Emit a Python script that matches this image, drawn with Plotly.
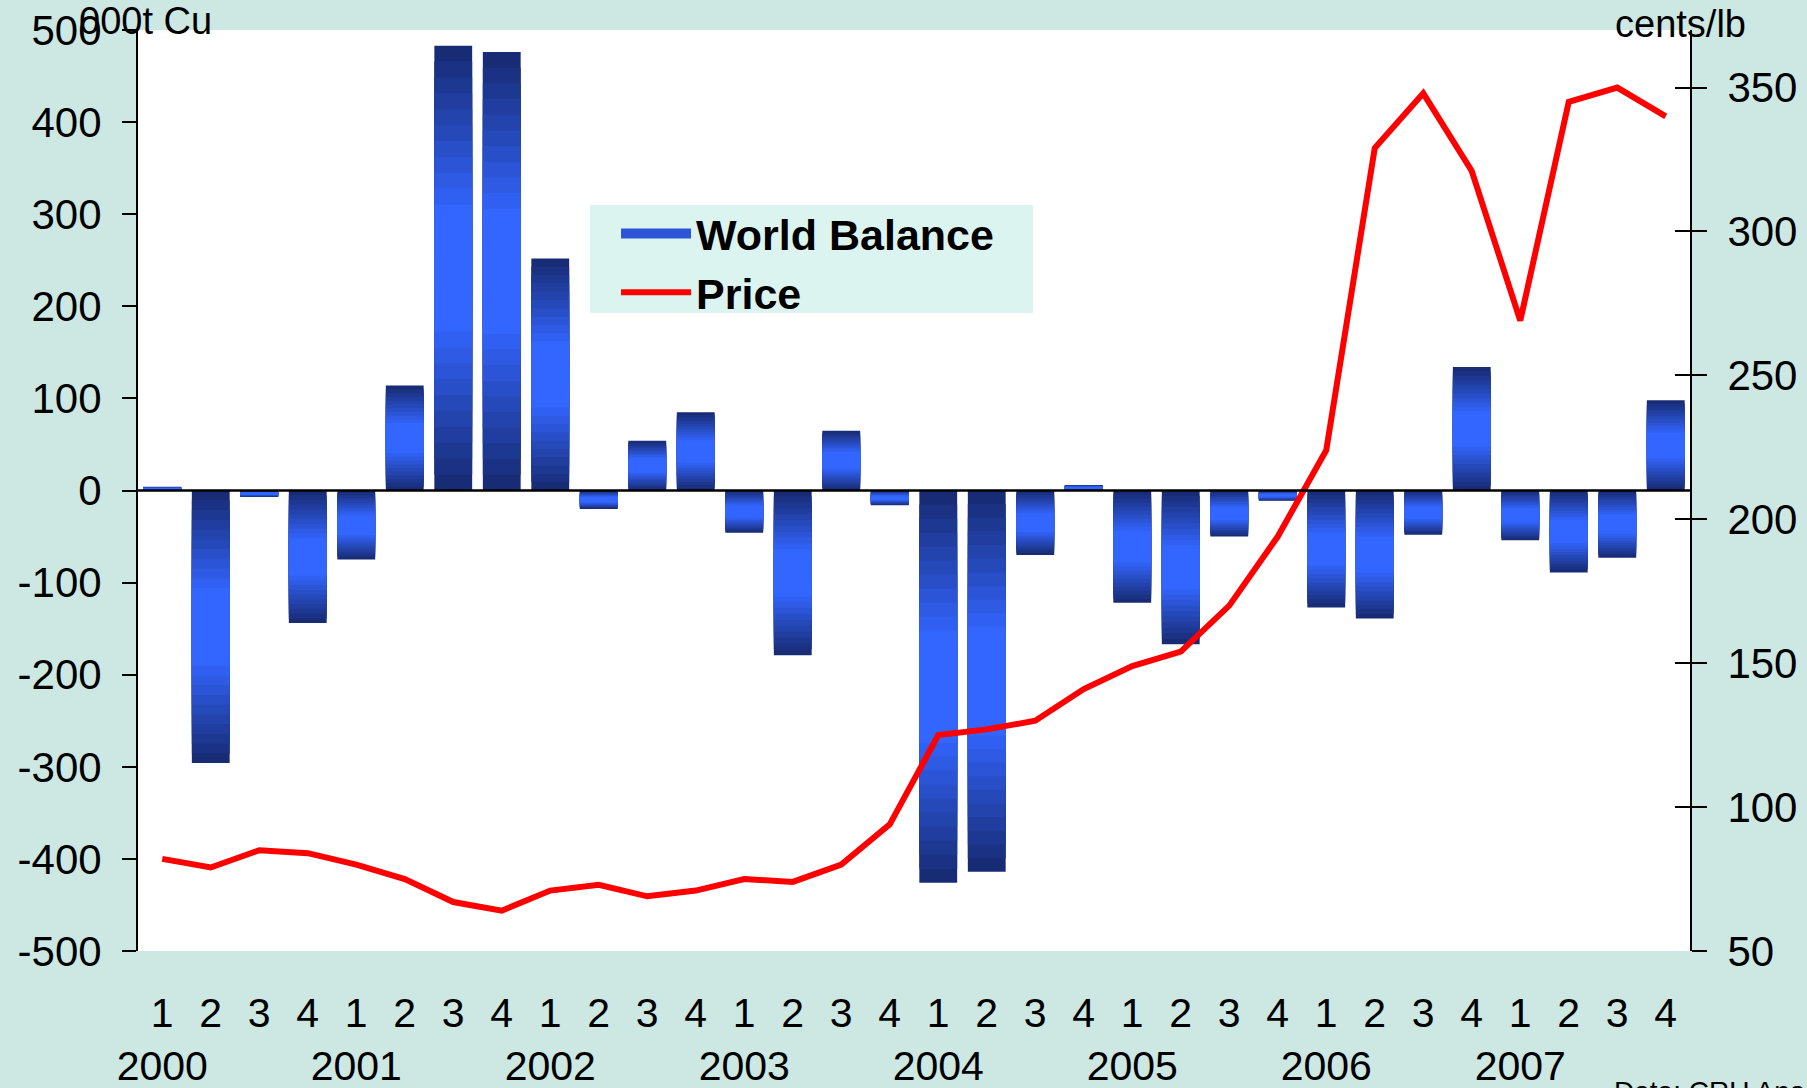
import plotly.graph_objects as go

# ---- data ----
years = ["2000", "2001", "2002", "2003", "2004", "2005", "2006", "2007"]
quarters = ["1", "2", "3", "4"]

balance = [4, -296, -7, -144,
           -75, 114, 483, 476,
           252, -20, 54, 85,
           -46, -179, 65, -16,
           -426, -414, -70, 6,
           -122, -167, -50, -11,
           -127, -139, -48, 134,
           -54, -89, -73, 98]

price = [82, 79, 85, 84,
         80, 75, 67, 64,
         71, 73, 69, 71,
         75, 74, 80, 94,
         125, 127, 130, 141,
         149, 154, 170, 194,
         224, 329, 348, 321,
         269, 345, 350, 340]

left_ticks = [-500, -400, -300, -200, -100, 0, 100, 200, 300, 400, 500]
right_ticks = [50, 100, 150, 200, 250, 300, 350]

# ---- derived ----
cats = [f"{y} Q{q}" for y in years for q in quarters]
ticktext = [(f"{q}<br>{y}" if q == "1" else q) for y in years for q in quarters]

FONT = "Liberation Sans, Arial, Helvetica, sans-serif"
BG = "#cde8e2"
TICK = 42

fig = go.Figure()

# legend proxy for the bars (wide blue rectangle)
fig.add_trace(go.Scatter(
    x=[None], y=[None], mode="lines", name="World Balance",
    line=dict(color="#2d55d8", width=25), legendgroup="wb", hoverinfo="skip",
))

# gradient-looking bars: layered bars, dark at both ends, bright in the middle
dark = (24, 44, 118)
bright = (51, 102, 255)
N = 14
for k in range(N):
    a = 0.5 * k / N
    t = min(1.0, k / (N - 4))
    c = tuple(round(dark[i] + (bright[i] - dark[i]) * t) for i in range(3))
    fig.add_trace(go.Bar(
        x=cats,
        y=[v * (1 - 2 * a) for v in balance],
        base=[v * a for v in balance],
        marker=dict(color=f"rgb{c}", line=dict(width=0)),
        name="World Balance",
        legendgroup="wb",
        showlegend=False,
        hoverinfo="skip",
    ))

fig.add_trace(go.Scatter(
    x=cats, y=price, yaxis="y2", mode="lines",
    line=dict(color="#ff0000", width=6),
    name="Price",
))

# helper axis for crossing ticks on the right axis
fig.add_trace(go.Scatter(x=[cats[0]], y=[None], yaxis="y3", showlegend=False,
                         mode="lines", hoverinfo="skip"))

fig.update_layout(
    width=1807, height=1088,
    paper_bgcolor=BG, plot_bgcolor="white",
    margin=dict(l=138, r=117, t=30, b=137, autoexpand=False),
    barmode="overlay", bargap=0.22,
    font=dict(family=FONT, size=TICK, color="black"),
    showlegend=True,
    legend=dict(
        x=0.308, y=0.8165, xanchor="left", yanchor="top",
        bgcolor="rgba(0,0,0,0)", borderwidth=0,
        font=dict(family=FONT, size=43, color="black", weight="bold"),
        itemwidth=70, tracegroupgap=0,
    ),
    xaxis=dict(
        type="category", categoryorder="array", categoryarray=cats,
        range=[-0.5, len(cats) - 0.5],
        tickmode="array", tickvals=cats, ticktext=ticktext,
        tickangle=0, automargin=False,
        ticks="", showline=False, showgrid=False, zeroline=False,
        ticklabelstandoff=34,
        tickfont=dict(size=41),
    ),
    yaxis=dict(
        range=[-500, 500], tickvals=left_ticks,
        ticktext=[str(v) for v in left_ticks], automargin=False,
        showgrid=False, zeroline=False,
        showline=True, linecolor="black", linewidth=2,
        ticks="outside", ticklen=14, tickwidth=2, tickcolor="black",
        tickfont=dict(size=TICK), ticklabelstandoff=12,
    ),
    yaxis2=dict(
        overlaying="y", side="right", range=[50, 370], tickvals=right_ticks,
        ticktext=[str(v) for v in right_ticks], automargin=False,
        showgrid=False, zeroline=False,
        showline=True, linecolor="black", linewidth=2,
        ticks="outside", ticklen=15, tickwidth=2, tickcolor="black",
        tickfont=dict(size=TICK), ticklabelstandoff=12,
    ),
    yaxis3=dict(
        overlaying="y", side="right", range=[50, 370], tickvals=right_ticks,
        showgrid=False, zeroline=False, showline=False, automargin=False,
        ticks="inside", ticklen=15, tickwidth=2, tickcolor="black",
        showticklabels=False,
    ),
    shapes=[
        # legend box
        dict(type="rect", xref="paper", yref="paper",
             x0=0.2912, x1=0.5767, y0=0.6927, y1=0.81,
             fillcolor="#dcf4ef", line=dict(width=0), layer="below"),
        # category axis at zero
        dict(type="line", xref="paper", x0=0, x1=1, yref="y", y0=0, y1=0,
             line=dict(color="black", width=2.5), layer="above"),
    ],
    annotations=[
        dict(text="000t Cu", xref="paper", yref="paper", x=-0.039, y=1.01,
             xanchor="left", yanchor="middle", showarrow=False,
             font=dict(size=38)),
        dict(text="cents/lb", xref="paper", yref="paper", x=0.994, y=1.007,
             xanchor="center", yanchor="middle", showarrow=False,
             font=dict(size=38)),
        dict(text="Data: CRU Analysis", xref="paper", yref="paper", x=0.95, y=-0.134,
             xanchor="left", yanchor="top", showarrow=False,
             font=dict(size=28)),
    ],
)

fig.write_html("out.html", config={"displayModeBar": False},
               post_script="document.body.style.margin='0';")
